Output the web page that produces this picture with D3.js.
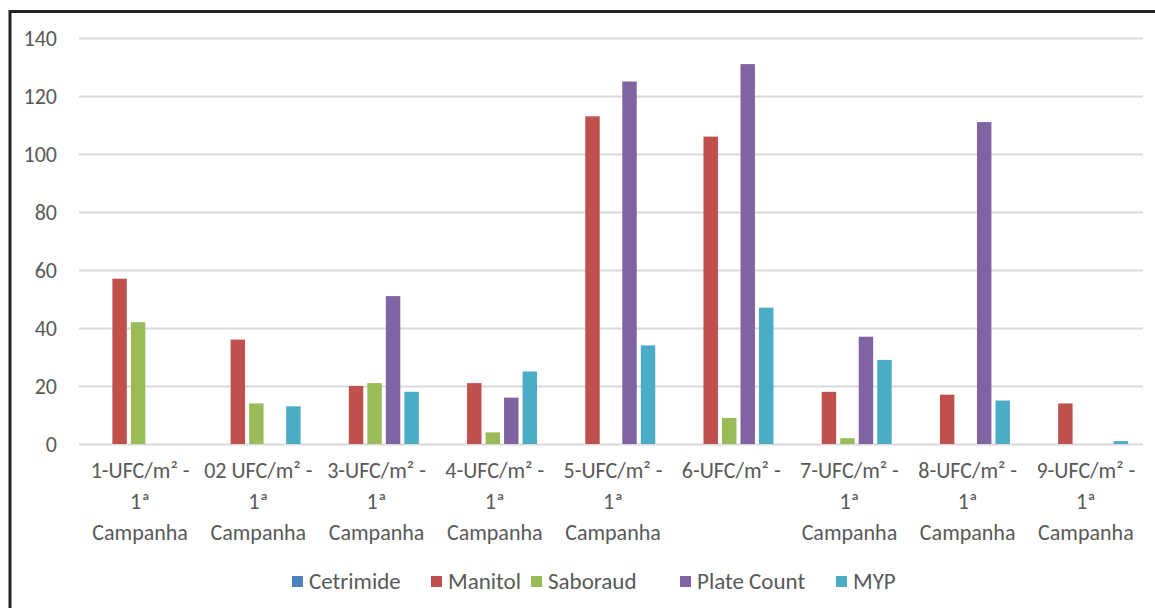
<!DOCTYPE html>
<html>
<head>
<meta charset="utf-8">
<script src="https://cdn.jsdelivr.net/npm/d3@7"></script>
<style>
  html, body { margin: 0; padding: 0; background: #fff; }
  svg { display: block; }
  text { font-family: Carlito, Calibri, Lato, "Open Sans", sans-serif; fill: #595959; }
</style>
</head>
<body>
<svg id="chart" width="1155" height="608"></svg>
<script>
// Sampling points (two-line labels; the 6th point has only one line)
const categories = [
  ["1-UFC/m² -", "1ª", "Campanha"],
  ["02 UFC/m² -", "1ª", "Campanha"],
  ["3-UFC/m² -", "1ª", "Campanha"],
  ["4-UFC/m² -", "1ª", "Campanha"],
  ["5-UFC/m² -", "1ª", "Campanha"],
  ["6-UFC/m² -"],
  ["7-UFC/m² -", "1ª", "Campanha"],
  ["8-UFC/m² -", "1ª", "Campanha"],
  ["9-UFC/m² -", "1ª", "Campanha"]
];
const seriesNames = ["Cetrimide", "Manitol", "Saboraud", "Plate Count", "MYP"];
const seriesColors = ["#4F81BD", "#C0504D", "#9BBB59", "#8064A2", "#4BACC6"];

// Counts per culture medium, one value per sampling point
const cetrimide  = [0, 0, 0, 0, 0, 0, 0, 0, 0];
const manitol    = [57, 36, 20, 21, 113, 106, 18, 17, 14];
const saboraud   = [42, 14, 21, 4, 0, 9, 2, 0, 0];
const plateCount = [0, 0, 51, 16, 125, 131, 37, 111, 0];
const myp        = [0, 13, 18, 25, 34, 47, 29, 15, 1];

const yTicks = [0, 20, 40, 60, 80, 100, 120, 140];

const seriesValues = [cetrimide, manitol, saboraud, plateCount, myp];

const svg = d3.select("#chart");

// Outer frame (top and left edges visible)
svg.append("path")
  .attr("d", "M10,620 L10,11.5 L1170,11.5")
  .attr("fill", "none")
  .attr("stroke", "#222")
  .attr("stroke-width", 3);

const plot = { left: 79, right: 1143, top: 38, bottom: 444 };

const x = d3.scaleBand()
  .domain(d3.range(categories.length))
  .range([plot.left, plot.right])
  .paddingInner(0).paddingOuter(0);

const xs = d3.scaleBand()
  .domain(seriesNames)
  .range([-44.25, 44.25])
  .paddingInner(0.22).paddingOuter(0);

const y = d3.scaleLinear()
  .domain([0, 140])
  .range([plot.bottom, plot.top]);

// Horizontal gridlines
const yAxis = d3.axisLeft(y)
  .tickValues(yTicks)
  .tickSize(-(plot.right - plot.left))
  .tickPadding(22)
  .tickFormat(d3.format("d"));

const gy = svg.append("g")
  .attr("transform", `translate(${plot.left},0)`)
  .call(yAxis);
gy.select(".domain").remove();
gy.selectAll(".tick line")
  .attr("stroke", "#d9d9d9")
  .attr("stroke-width", 2);
gy.selectAll(".tick text")
  .attr("font-size", 22)
  .style("fill", "#595959");

// Bars
seriesNames.forEach((name, si) => {
  svg.append("g")
    .selectAll("rect")
    .data(seriesValues[si])
    .join("rect")
    .attr("x", (d, i) => x(i) + x.bandwidth() / 2 + xs(name))
    .attr("width", xs.bandwidth())
    .attr("y", d => y(d))
    .attr("height", d => y(0) - y(d))
    .attr("fill", seriesColors[si]);
});

// Category labels
const xl = svg.append("g");
categories.forEach((lines, i) => {
  const cx = x(i) + x.bandwidth() / 2 + 2;
  const t = xl.append("text")
    .attr("text-anchor", "middle")
    .attr("font-size", 22)
    .attr("x", cx);
  lines.forEach((ln, k) => {
    t.append("tspan")
      .attr("x", cx)
      .attr("y", 478 + k * 31)
      .text(ln);
  });
});

// Legend
const legendX = [292, 431, 531, 680, 836];
const lg = svg.append("g");
seriesNames.forEach((name, i) => {
  lg.append("rect")
    .attr("x", legendX[i])
    .attr("y", 576)
    .attr("width", 11)
    .attr("height", 11)
    .attr("fill", seriesColors[i]);
  lg.append("text")
    .attr("x", legendX[i] + 17)
    .attr("y", 589)
    .attr("font-size", 23)
    .text(name);
});
</script>
</body>
</html>
